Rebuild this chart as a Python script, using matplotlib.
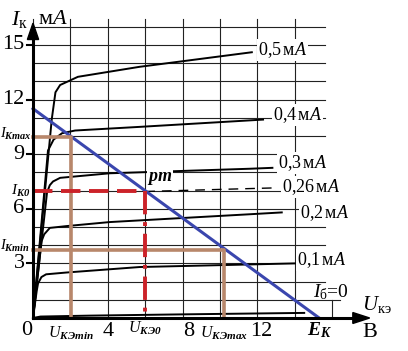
import matplotlib
matplotlib.use("Agg")
import matplotlib.pyplot as plt
from matplotlib.patches import Polygon

plt.rcParams['font.family'] = ['Liberation Serif', 'DejaVu Serif']
plt.rcParams['mathtext.fontset'] = 'custom'
plt.rcParams['mathtext.rm'] = 'Liberation Serif'
plt.rcParams['mathtext.it'] = 'Liberation Serif:italic'
plt.rcParams['mathtext.bf'] = 'Liberation Serif:bold:italic'

# ---- data ----
ib_labels = ['0,5', '0,4', '0,3', '0,26', '0,2', '0,1']
u_05 = [0, 1.0, 1.2, 1.45, 2.4, 5.7, 11.7]
i_05 = [0, 10.9, 12.4, 12.8, 13.25, 13.8, 14.6]
u_04 = [0, 0.8, 1.1, 1.55, 2.25, 5.7, 12.3]
i_04 = [0, 9.2, 9.8, 10.15, 10.3, 10.5, 10.9]
u_03 = [0, 0.75, 0.9, 1.07, 1.45, 4.1, 11.6, 12.8]
i_03 = [0, 6.9, 7.3, 7.5, 7.7, 7.95, 8.2, 8.25]
u_026 = [6.0, 13.0]
i_026 = [6.95, 7.15]
u_02 = [0, 0.45, 0.6, 0.9, 1.8, 4.1, 11.6, 13.3]
i_02 = [0, 4.2, 4.6, 4.95, 5.05, 5.27, 5.7, 5.8]
u_01 = [0, 0.2, 0.27, 0.45, 0.7, 1.8, 5.7, 14.0]
i_01 = [0, 1.5, 1.9, 2.25, 2.4, 2.5, 2.8, 3.0]
u_00 = [0, 0.4, 3, 8, 14.5]
i_00 = [0, 0.08, 0.13, 0.2, 0.28]

y_ticks = [3, 6, 9, 12, 15]
x_ticks = [4, 8, 12]
E_K = 15.3
I_load0 = 11.5
U_KE0, I_K0 = 6.0, 6.95
U_KEmin, I_Kmax = 2.05, 9.95
U_KEmax, I_Kmin = 10.2, 3.74

# ---- layout ----
fig = plt.figure(figsize=(4.08, 3.51), dpi=100)
ax = fig.add_axes([0, 0, 1, 1])
ax.set_xlim(-1.765, 20.05)
ax.set_ylim(-1.813, 17.47)
ax.axis('off')

grid_kw = dict(color='#222222', lw=0.8, zorder=1)
for gx in range(0, 15, 2):
    ax.plot([gx, gx], [0, 16.4], **grid_kw)
ax.plot([16, 16], [0, 1.0], **grid_kw)
for gy in range(1, 17):
    ax.plot([0, 16.4 if gy == 1 else 15.6], [gy, gy], **grid_kw)

# axes with arrows
ax.plot([0, 0], [0, 15.6], color='black', lw=2.2, zorder=5)
ax.plot([0, 17.3], [0, 0], color='black', lw=2.2, zorder=5)
ax.add_patch(Polygon([[-0.3, 15.3], [0.3, 15.3], [0, 16.2]], closed=True, color='black', zorder=6))
ax.add_patch(Polygon([[17.1, 0.3], [17.1, -0.3], [18.0, 0]], closed=True, color='black', zorder=6))
for t in y_ticks:
    ax.plot([-0.3, 0], [t, t], color='black', lw=1.5, zorder=5)
    ax.text(-0.45, t, str(t), ha='right', va='center', fontsize=16)
ax.text(-0.35, -0.7, '0', ha='center', va='center', fontsize=16)
for t, off in zip(x_ticks, [0.0, 0.3, 0.2]):
    ax.text(t + off, -0.75, str(t), ha='center', va='center', fontsize=16)

# characteristic curves
ck = dict(color='black', lw=1.4, zorder=3)
for u, i in [(u_05, i_05), (u_04, i_04), (u_03, i_03), (u_02, i_02), (u_01, i_01), (u_00, i_00)]:
    ax.plot(u, i, **ck)
ax.plot(u_026, i_026, color='black', lw=1.0, dashes=(7, 5), zorder=3)

# load line
ax.plot([0, E_K], [I_load0, 0], color='#3a46ae', lw=2.2, zorder=4)

# brown lines
br = dict(color='#b8876b', lw=2.6, zorder=4)
ax.plot([0, U_KEmin, U_KEmin], [I_Kmax, I_Kmax, 0], **br)
ax.plot([0, U_KEmax, U_KEmax], [I_Kmin, I_Kmin, 0], **br)

# red dashed
ax.plot([0, U_KE0], [I_K0, I_K0], color='#cc2229', lw=2.8, dashes=(5, 2.2), zorder=4)
ax.plot([U_KE0, U_KE0], [I_K0, 0], color='#cc2229', lw=2.8, dashes=(6, 2, 1, 2), zorder=4)

# right labels
lab_pos = [(12.03, 14.73), (12.83, 11.15), (13.1, 8.52), (13.3, 7.2), (14.28, 5.77), (14.1, 3.19)]
for lab, (px, py) in zip(ib_labels, lab_pos):
    ax.text(px, py, lab + r'$\,$м$A$', ha='left', va='center', fontsize=13,
            bbox=dict(facecolor='white', edgecolor='none', pad=0.5), zorder=7)
ax.text(14.97, 1.43, r'$I_{\rm б}$=0', ha='left', va='center', fontsize=14, zorder=7)

# top/left/bottom labels
ax.text(-1.2, 16.4, r'$I_{\rm к}$', ha='left', va='center', fontsize=16)
ax.text(0.25, 16.4, r'м$A$', ha='left', va='center', fontsize=16)
ax.text(6.8, 7.65, r'$\mathbf{pm}$', ha='center', va='center', fontsize=13, zorder=7,
        bbox=dict(facecolor='white', edgecolor='none', pad=0.3))
ax.text(-1.74, I_Kmax + 0.15, r'$I_{\mathbf{Kmax}}$', ha='left', va='center', fontsize=10.5, zorder=7)
ax.text(-0.15, I_K0 + 0.05, r'$I_{\mathbf{K0}}$', ha='right', va='center', fontsize=11, zorder=7)
ax.text(-1.74, I_Kmin + 0.2, r'$I_{\mathbf{Kmin}}$', ha='left', va='center', fontsize=10.5, zorder=7)
ax.text(U_KEmin, -0.85, r'$U_{\mathbf{KЭmin}}$', ha='center', va='center', fontsize=11.5)
ax.text(U_KE0, -0.55, r'$U_{\mathbf{KЭ0}}$', ha='center', va='center', fontsize=11.5)
ax.text(U_KEmax, -0.85, r'$U_{\mathbf{KЭmax}}$', ha='center', va='center', fontsize=11.5)
ax.text(E_K, -0.65, r'$\mathbf{E_K}$', ha='center', va='center', fontsize=14)
ax.text(18.0, -0.8, 'В', ha='center', va='center', fontsize=16)
ax.text(18.4, 0.75, r'$U_{\rm кэ}$', ha='center', va='center', fontsize=15)

fig.savefig('out.png', dpi=100)
